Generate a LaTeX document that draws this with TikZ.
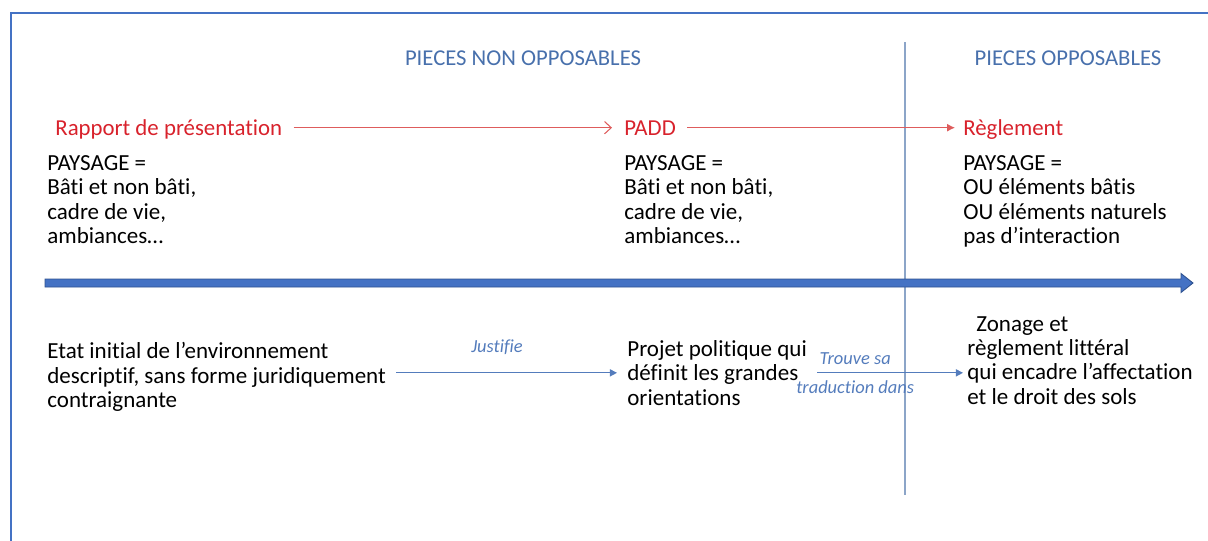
\documentclass[tikz,border=0pt]{standalone}
\usepackage{fontspec}
\setmainfont{Carlito}[Ligatures=NoCommon]
\definecolor{frameblue}{RGB}{68,114,196}
\definecolor{bardark}{RGB}{47,82,143}
\definecolor{titleblue}{RGB}{72,112,172}
\definecolor{titlered}{RGB}{216,34,44}
\definecolor{arrowred}{RGB}{222,92,92}
\definecolor{linkblue}{RGB}{84,124,188}
\definecolor{sepgrey}{RGB}{140,165,200}
\usetikzlibrary{arrows.meta, positioning}
\tikzset{
x=0.02cm, y=-0.02cm, % one unit is one pixel of the page, y going down
every node/.style={inner sep=0pt},
heading/.style={text=titleblue, font=\fontsize{12.9}{15}\selectfont, anchor=base}, % column titles
piece/.style={text=titlered, font=\fontsize{13}{15}\selectfont, anchor=base west, text height=8.3pt, text depth=0pt}, % red document names
block/.style={font=\fontsize{13.1}{13.9}\selectfont, align=left, anchor=north west}, % black text blocks
redlink/.style={arrowred, line width=0.6pt},
bluelink/.style={linkblue, line width=0.7pt, -{Triangle[length=4pt,width=4pt]}},
linklabel/.style={text=linkblue, font=\fontsize{10.5}{12}\selectfont\itshape},
}

\begin{document}
\begin{tikzpicture}
      \clip (0,0) rectangle (1208,541);
      \draw[frameblue, line width=1.2pt] (11,13) rectangle (1240,580);

      % column titles and separator
      \node[heading] (nonOpp) at (523,65) {PIECES NON OPPOSABLES};
      \node[heading] (opp) at (1068,65) {PIECES OPPOSABLES};
      \coordinate (sepTop) at (905,42);
      \coordinate (sepBot) at (905,495);
      \draw[sepgrey, line width=0.7pt] (sepTop) -- (sepBot);

      % the three documents
      \node[piece] (rapport) at (55,135) {Rapport de présentation};
      \node[piece] (padd) at (624,135) {PADD};
      \node[piece] (reglement) at (963,135) {Règlement};

      \draw[redlink, -{Straight Barb[length=3.8pt,width=7pt]}, shorten <=0.22cm, shorten >=0.24cm] (rapport) -- (padd);
      \draw[redlink, -{Latex[length=4.5pt,width=4.5pt]}, shorten <=0.22cm, shorten >=0.16cm] (padd) -- (reglement);

      \node[block] (paysageA) at (47,155) {PAYSAGE =\\Bâti et non bâti,\\cadre de vie,\\ambiances…};
      \node[block] (paysageB) at (624,155) {PAYSAGE =\\Bâti et non bâti,\\cadre de vie,\\ambiances…};
      \node[block] (paysageC) at (963,155) {PAYSAGE =\\OU éléments bâtis\\OU éléments naturels\\pas d’interaction};

      % time line
      \coordinate (barL) at (45,283);
      \coordinate (barR) at (1193,283);
      \draw[fill=frameblue, draw=bardark, line width=0.5pt]
        (barL) ++(0,-4) -- ++(1136,0) -- ++(0,-5.5) -- (barR) -- ++(-12,9.5) -- ++(0,-5.5) -- ++(-1136,0) -- cycle;

      % lower row
      \node[block] (etat) at (47,342) {Etat initial de l’environnement\\descriptif, sans forme juridiquement\\contraignante};
      \node[block] (projet) at (627,340) {Projet politique qui\\définit les grandes\\orientations};
      \node[block] (zonage) at (967,316) {\hspace*{0.18cm}Zonage et\\règlement littéral\\qui encadre l’affectation\\et le droit des sols};

      \draw[bluelink, shorten <=0.2cm, shorten >=0.2cm] (etat.east |- projet.west) -- (projet.west)
        node[linklabel, pos=0.46, above=0.36cm] {Justifie};
      \draw[bluelink, shorten <=0.2cm, shorten >=0.08cm] (projet.east) -- (projet.east -| zonage.west)
        node[linklabel, pos=0.3, above=0.16cm] {Trouve sa}
        node[linklabel, pos=0.3, below=0.14cm] {traduction dans};
    \end{tikzpicture}
\end{document}
